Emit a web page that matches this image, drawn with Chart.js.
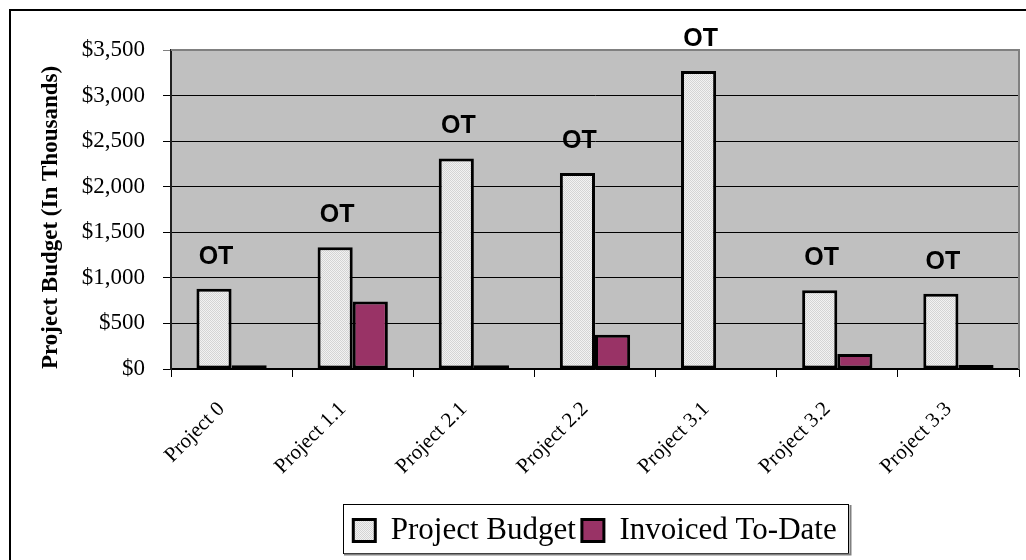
<!DOCTYPE html>
<html>
<head>
<meta charset="utf-8">
<script src="https://cdn.jsdelivr.net/npm/chart.js@4.4.1/dist/chart.umd.min.js"></script>
<style>
  html, body { margin: 0; padding: 0; background: #fff; }
  #wrap { width: 1026px; height: 560px; }
</style>
</head>
<body>
<div id="wrap"><canvas id="budgetChart" width="1026" height="560"></canvas></div>
<script>
// chart data
const categories = ['Project 0', 'Project 1.1', 'Project 2.1', 'Project 2.2', 'Project 3.1', 'Project 3.2', 'Project 3.3'];
const budgetValues = [880, 1335, 2310, 2150, 3270, 865, 825];
const invoicedValues = [40, 740, 40, 375, null, 165, 45];
const otLabels = ['OT', 'OT', 'OT', 'OT', 'OT', 'OT', 'OT'];
const yTicks = [0, 500, 1000, 1500, 2000, 2500, 3000, 3500];

// dotted light grey fill like the old excel pattern
function makeDots() {
  const c = document.createElement('canvas');
  c.width = 2; c.height = 2;
  const g = c.getContext('2d');
  g.fillStyle = '#f2f2f2';
  g.fillRect(0, 0, 2, 2);
  g.fillStyle = '#d4d4d4';
  g.fillRect(0, 0, 1, 1);
  g.fillRect(1, 1, 1, 1);
  return g.createPattern(c, 'repeat');
}
const dots = makeDots();

// white page, outer frame and grey plot background
const framePlugin = {
  id: 'frame',
  beforeDraw(chart) {
    const ctx = chart.ctx;
    const a = chart.chartArea;
    ctx.save();
    ctx.fillStyle = '#fff';
    ctx.fillRect(0, 0, chart.width, chart.height);
    ctx.strokeStyle = '#000';
    ctx.lineWidth = 2;
    ctx.strokeRect(10, 10, chart.width + 40, chart.height + 40);
    ctx.fillStyle = '#c0c0c0';
    ctx.fillRect(a.left, a.top, a.right - a.left, a.bottom - a.top);
    ctx.restore();
  },
  afterDraw(chart) {
    const ctx = chart.ctx;
    const a = chart.chartArea;
    ctx.save();
    // plot border top / right
    ctx.strokeStyle = '#808080';
    ctx.lineWidth = 2;
    ctx.beginPath();
    ctx.moveTo(a.left, a.top);
    ctx.lineTo(a.right, a.top);
    ctx.lineTo(a.right, a.bottom);
    ctx.stroke();
    // box round the legend
    const boxes = chart.legend.legendHitBoxes;
    if (boxes && boxes.length) {
      const first = boxes[0];
      const last = boxes[boxes.length - 1];
      const x0 = first.left - 10;
      const x1 = last.left + last.width + 12;
      const y0 = first.top - 11;
      const y1 = first.top + first.height + 7;
      ctx.strokeStyle = '#000';
      ctx.lineWidth = 1;
      ctx.strokeRect(Math.round(x0) + 0.5, Math.round(y0) + 0.5, Math.round(x1 - x0), Math.round(y1 - y0));
      ctx.strokeStyle = '#808080';
      ctx.lineWidth = 2;
      ctx.beginPath();
      ctx.moveTo(Math.round(x0) + 1, Math.round(y1) + 1.5);
      ctx.lineTo(Math.round(x1) + 1.5, Math.round(y1) + 1.5);
      ctx.lineTo(Math.round(x1) + 1.5, Math.round(y0) + 1);
      ctx.stroke();
    }
    ctx.restore();
  }
};

// "OT" text above each budget bar
const otPlugin = {
  id: 'otText',
  afterDatasetsDraw(chart) {
    const ctx = chart.ctx;
    const meta = chart.getDatasetMeta(0);
    ctx.save();
    ctx.font = 'bold 25px "Liberation Sans", Arial, sans-serif';
    ctx.fillStyle = '#000';
    ctx.textAlign = 'center';
    ctx.textBaseline = 'middle';
    meta.data.forEach((bar, i) => {
      if (!otLabels[i]) return;
      ctx.fillText(otLabels[i], bar.x + 2, bar.y - 32);
    });
    ctx.restore();
  }
};

const ctx = document.getElementById('budgetChart').getContext('2d');
const budgetChart = new Chart(ctx, {
  type: 'bar',
  data: {
    labels: categories,
    datasets: [{
      label: 'Project Budget',
      data: budgetValues,
      backgroundColor: dots,
      borderColor: '#000',
      borderWidth: 3,
      borderSkipped: false,
      categoryPercentage: 0.58,
      barPercentage: 1.0,
    }, {
      label: 'Invoiced To-Date',
      data: invoicedValues,
      backgroundColor: '#993366',
      borderColor: '#000',
      borderWidth: 3,
      borderSkipped: false,
      categoryPercentage: 0.58,
      barPercentage: 1.0,
    }],
  },
  options: {
    responsive: false,
    animation: false,
    devicePixelRatio: 1,
    layout: {
      padding: { left: 28, right: 7, top: 50, bottom: 4 },
    },
    plugins: {
      tooltip: { enabled: false },
      legend: {
        position: 'bottom',
        fullSize: false,
        labels: {
          color: '#000',
          font: { family: '"Liberation Serif", "Times New Roman", serif', size: 31 },
          boxWidth: 22,
          boxHeight: 22,
          padding: 6,
        },
      },
    },
    scales: {
      x: {
        grid: {
          display: true,
          drawOnChartArea: false,
          drawTicks: true,
          tickLength: 8,
          color: '#000',
          offset: true,
        },
        border: { color: '#000', width: 1.5 },
        ticks: {
          color: '#000',
          font: { family: '"Liberation Serif", "Times New Roman", serif', size: 21 },
          minRotation: 45,
          maxRotation: 45,
          padding: 20,
          labelOffset: -10,
        },
        afterFit(scale) { scale.height = 140; },
      },
      y: {
        min: 0,
        max: 3500,
        afterBuildTicks(scale) {
          scale.ticks = yTicks.map(v => ({ value: v }));
        },
        grid: {
          color: (c) => (c.tick && c.tick.value === 3500 ? '#808080' : '#000'),
          lineWidth: 1,
          tickLength: 8,
          drawTicks: true,
        },
        border: { color: '#202020', width: 2 },
        ticks: {
          color: '#000',
          font: { family: '"Liberation Serif", "Times New Roman", serif', size: 23 },
          padding: 18,
          callback: (v) => '$' + Number(v).toLocaleString('en-US'),
        },
        title: {
          display: true,
          text: 'Project Budget (In Thousands)',
          align: 'start',
          color: '#000',
          font: { family: '"Liberation Serif", "Times New Roman", serif', size: 23, weight: 'bold' },
          padding: { top: 9, bottom: 0 },
        },
        afterFit(scale) { scale.width = 143; },
      },
    },
  },
  plugins: [framePlugin, otPlugin],
});
</script>
</body>
</html>
